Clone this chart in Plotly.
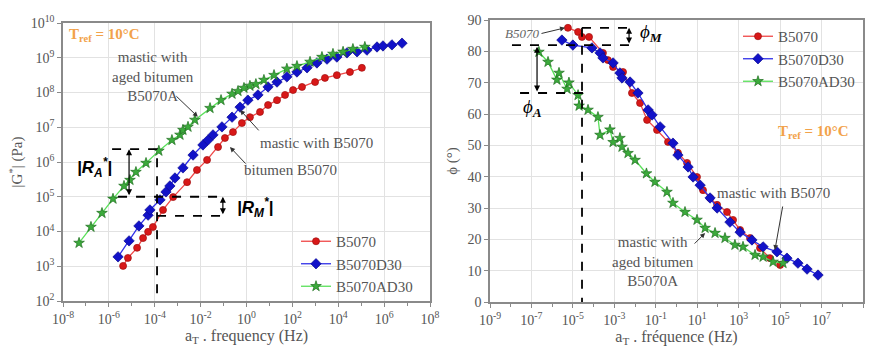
import numpy as np
import plotly.graph_objects as go

# ---------------- DATA (log10 values) ----------------
# Left panel: |G*| master curves
b5070_g_logf = [-5.38, -5.17, -4.77, -4.51, -4.29, -4.08, -3.64, -3.20, -2.59, -2.16, -1.72, -1.24,
                -0.94, -0.59, -0.20, 0.15, 0.59, 0.94, 1.33, 1.68, 2.03, 2.42, 2.99, 3.42, 3.94, 4.51, 5.03]
b5070_g_logG = [3.01, 3.24, 3.53, 3.81, 3.99, 4.13, 4.62, 4.99, 5.42, 5.77, 6.06, 6.43,
                6.69, 6.86, 7.12, 7.29, 7.44, 7.64, 7.78, 7.93, 8.07, 8.16, 8.30, 8.42, 8.50, 8.59, 8.71]

b5070d30_g_logf = [-5.60, -5.12, -4.69, -4.29, -4.21, -3.77, -3.51, -3.34, -3.12, -2.77, -2.33, -1.90,
                   -1.68, -1.46, -1.07, -0.63, -0.28, 0.06, 0.50, 0.94, 1.33, 1.76, 2.20, 2.64, 3.07,
                   3.51, 3.94, 4.38, 4.82, 5.25, 5.69, 5.95, 6.34, 6.78]
b5070d30_g_logG = [3.27, 3.73, 4.16, 4.47, 4.62, 4.91, 5.14, 5.31, 5.54, 5.83, 6.20, 6.49,
                   6.63, 6.78, 7.01, 7.29, 7.58, 7.78, 7.93, 8.16, 8.30, 8.45, 8.59, 8.71, 8.85,
                   8.96, 9.02, 9.14, 9.17, 9.22, 9.31, 9.34, 9.37, 9.42]

b5070ad30_g_logf = [-7.30, -6.78, -6.30, -5.82, -5.34, -5.08, -4.82, -4.38, -3.82, -3.25, -2.90, -2.77,
                    -2.55, -2.25, -1.59, -1.11, -0.63, -0.37, -0.11, 0.15, 0.41, 0.76, 1.20, 1.76,
                    2.20, 2.77, 3.29, 3.77, 4.21, 4.64, 5.16]
b5070ad30_g_logG = [3.67, 4.13, 4.53, 4.94, 5.31, 5.48, 5.71, 5.97, 6.32, 6.63, 6.78, 6.92,
                    7.01, 7.21, 7.55, 7.78, 7.96, 8.04, 8.13, 8.19, 8.24, 8.36, 8.50, 8.68,
                    8.76, 8.88, 9.02, 9.11, 9.17, 9.25, 9.31]

# Right panel: phase angle master curves
b5070_p_logf = [-5.24, -4.75, -4.56, -4.22, -3.55, -3.31, -3.06, -2.58, -2.15, -1.76, -1.42, -0.94,
                -0.41, 0.07, 0.51, 0.99, 1.28, 1.62, 1.96, 2.44, 2.73, 3.07, 3.55, 4.03, 4.51, 5.00]
b5070_p_phase = [87.5, 86.2, 84.6, 84.6, 79.5, 77.2, 75.0, 73.4, 66.7, 63.5, 58.1, 54.9,
                 51.1, 47.6, 44.4, 39.9, 35.7, 33.2, 31.0, 28.7, 26.2, 23.0, 20.4, 17.2, 14.0, 11.8]

b5070d30_p_logf = [-5.53, -5.00, -4.08, -3.69, -3.55, -3.06, -2.73, -2.63, -2.24, -1.86, -1.37, -1.18,
                   -0.79, -0.17, 0.07, 0.56, 0.80, 1.14, 1.62, 1.96, 2.58, 3.07, 3.64, 4.18, 4.85,
                   5.33, 5.86, 6.30, 6.83]
b5070d30_p_phase = [83.6, 82.0, 81.1, 79.5, 77.9, 76.3, 73.1, 71.5, 70.2, 66.7, 61.3, 59.7,
                    55.9, 50.7, 46.9, 43.1, 39.9, 37.3, 33.2, 30.0, 25.5, 22.3, 19.8, 17.6, 16.0,
                    14.0, 12.4, 10.5, 8.6]

b5070ad30_p_logf = [-6.64, -6.20, -5.77, -5.67, -5.28, -5.19, -4.75, -4.70, -4.27, -3.79, -3.69, -3.21,
                    -3.06, -2.73, -2.63, -2.34, -2.00, -1.45, -1.04, -0.46, -0.17, 0.41, 0.99, 1.38,
                    1.86, 2.34, 2.82, 3.21, 3.79, 4.18, 4.66, 5.14]
b5070ad30_p_phase = [79.8, 76.6, 70.9, 73.1, 68.0, 70.0, 66.0, 62.6, 61.3, 59.0, 53.3, 55.0,
                     51.0, 52.3, 49.5, 47.5, 45.3, 41.0, 38.3, 35.1, 31.6, 28.7, 26.2, 23.6,
                     22.0, 20.4, 18.2, 17.6, 15.0, 14.4, 12.8, 12.4]

left_tick_exp = [-8, -6, -4, -2, 0, 2, 4, 6, 8]
left_y_exp = [2, 3, 4, 5, 6, 7, 8, 9, 10]
right_tick_exp = [-9, -7, -5, -3, -1, 1, 3, 5, 7, 9]
phase_ticks = [0, 10, 20, 30, 40, 50, 60, 70, 80, 90]

series_names = ["B5070", "B5070D30", "B5070AD30"]

# reference construction values (log10 freq, log10 |G*| / phase)
ra_top, ra_bot, rm_bot = 6.37, 5.0, 4.45
left_ref_f = -3.90
phim_top, phim_bot, phia_bot = 87.5, 82.0, 66.7
right_ref_f = -4.56

# ---------------- STYLE ----------------
RED_M, RED_L = "#D81818", "#F04848"
BLU_M, BLU_L = "#1212C8", "#3030E8"
GRN_M, GRN_L = "#3CAA3C", "#5AE05A"
SERIF = "Liberation Serif"
TXT = "#555555"
ORANGE = "#F2A24A"

def P(v):
    return list(10 ** np.array(v, dtype=float))

fig = go.Figure()

styles = [
    dict(color=RED_L, msym="circle", mcol=RED_M, mline="#A01010", size=7),
    dict(color=BLU_L, msym="diamond", mcol=BLU_M, mline="#0A0A90", size=8),
    dict(color=GRN_L, msym="star", mcol=GRN_M, mline="#1E6E1E", size=8),
]
left_data = [(b5070_g_logf, b5070_g_logG), (b5070d30_g_logf, b5070d30_g_logG), (b5070ad30_g_logf, b5070ad30_g_logG)]
right_data = [(b5070_p_logf, b5070_p_phase), (b5070d30_p_logf, b5070d30_p_phase), (b5070ad30_p_logf, b5070ad30_p_phase)]

for name, st, (lf, lg) in zip(series_names, styles, left_data):
    fig.add_trace(go.Scatter(
        x=P(lf), y=P(lg), name=name, mode="lines+markers", xaxis="x", yaxis="y", legend="legend",
        line=dict(color=st["color"], width=1.3),
        marker=dict(symbol=st["msym"], color=st["mcol"], size=st["size"], line=dict(color=st["mline"], width=0.7))))

for name, st, (lf, ph) in zip(series_names, styles, right_data):
    fig.add_trace(go.Scatter(
        x=P(lf), y=ph, name=name, mode="lines+markers", xaxis="x2", yaxis="y2", legend="legend2",
        line=dict(color=st["color"], width=1.3),
        marker=dict(symbol=st["msym"], color=st["mcol"], size=st["size"], line=dict(color=st["mline"], width=0.7))))

# dashed construction lines
dash = dict(color="black", width=1.8, dash="dash")
def dline(xs, ys, xa, ya):
    fig.add_trace(go.Scatter(x=xs, y=ys, mode="lines", line=dash, xaxis=xa, yaxis=ya,
                             showlegend=False, hoverinfo="skip"))

dline(P([-5.86, left_ref_f, left_ref_f]), P([ra_top, ra_top, 2]), "x", "y")
dline(P([-5.60, -0.94]), P([ra_bot, ra_bot]), "x", "y")
dline(P([left_ref_f, -0.94]), P([rm_bot, rm_bot]), "x", "y")

dline(P([right_ref_f, -2.34]), [phim_top, phim_top], "x2", "y2")
dline(P([right_ref_f, right_ref_f]), [phim_top, 0], "x2", "y2")
dline(P([-7.94, -2.15]), [phim_bot, phim_bot], "x2", "y2")
dline(P([-7.55, -4.51]), [phia_bot, phia_bot], "x2", "y2")

ann = []
def text(x, y, t, xr, yr, size=15, color=TXT, family=SERIF, **kw):
    ann.append(dict(x=x, y=y, text=t, xref=xr, yref=yr, showarrow=False,
                    font=dict(family=family, size=size, color=color), **kw))

def arrow(x, y, ax, ay, xr, yr, color="#333333", width=1, side="end", head=2, pix=True):
    d = dict(x=x, y=y, ax=ax, ay=ay, xref=xr, yref=yr, text="", showarrow=True,
             arrowcolor=color, arrowwidth=width, arrowhead=head, arrowside=side, arrowsize=1)
    if not pix:
        d["axref"] = xr
        d["ayref"] = yr
    ann.append(d)

# Left annotations
text(-7.83, 9.65, "<b>T<sub>ref</sub> = 10°C</b>", "x", "y", size=15, color=ORANGE, xanchor="left")
text(-4.08, 8.45, "mastic with<br>aged bitumen<br>B5070A", "x", "y")
arrow(-2.12, 7.30, -23, -22, "x", "y")
text(3.07, 6.55, "mastic with B5070", "x", "y")
arrow(-0.28, 7.50, 20, 22, "x", "y")
text(1.90, 5.77, "bitumen B5070", "x", "y")
arrow(-0.72, 6.43, 17, 18, "x", "y")
text(-6.61, 5.83, "<b><i>|R<sub>A</sub><sup>*</sup>|</i></b>", "x", "y", size=17, color="black", family="Liberation Sans")
text(0.35, 4.68, "<b><i>|R<sub>M</sub><sup>*</sup>|</i></b>", "x", "y", size=17, color="black", family="Liberation Sans")
arrow(-5.12, ra_top, -5.12, ra_bot, "x", "y", color="black", width=1.2, side="end+start", head=2, pix=False)
arrow(-1.03, ra_bot, -1.03, rm_bot, "x", "y", color="black", width=1.2, side="end+start", head=2, pix=False)

# Right annotations
text(6.59, 54.3, "<b>T<sub>ref</sub> = 10°C</b>", "x2", "y2", size=15, color=ORANGE)
text(-7.46, 85.6, "<i>B5070</i>", "x2", "y2", size=13, color="#666666")
arrow(-5.38, 87.5, -25, 6, "x2", "y2")
text(4.66, 34.8, "mastic with B5070", "x2", "y2")
arrow(4.75, 16.6, 8, -45, "x2", "y2")
text(-1.13, 13.0, "mastic with<br>aged bitumen<br>B5070A", "x2", "y2")
arrow(1.38, 22.0, -12, 12, "x2", "y2")
text(-1.23, 85.9, "<i>ϕ</i><sub><b><i>M</i></b></sub>", "x2", "y2", size=19, color="black")
text(-6.97, 61.9, "<i>ϕ</i><sub><b><i>A</i></b></sub>", "x2", "y2", size=19, color="black")
arrow(-6.73, 81.5, -6.73, phia_bot, "x2", "y2", color="black", width=1.2, side="end+start", head=2, pix=False)
arrow(-2.29, phim_top, -2.29, phim_bot, "x2", "y2", color="black", width=1.2, side="end+start", head=2, pix=False)

def sup(e):
    return f"10<sup>{e}</sup>"

axis_common = dict(showline=True, linecolor="#8A8A8A", linewidth=1.5, mirror=True,
                   gridcolor="#E2E2E2", gridwidth=1, ticks="outside", ticklen=4, tickcolor="#8A8A8A",
                   tickfont=dict(family=SERIF, size=14, color=TXT), zeroline=False, automargin=False)

H = 349.0
fig.update_layout(
    width=872, height=349, margin=dict(l=0, r=0, t=0, b=0),
    paper_bgcolor="white", plot_bgcolor="white",
    showlegend=True,
    xaxis=dict(type="log", range=[-8, 8], domain=[63 / 872, 430 / 872], anchor="y",
               tickvals=P(left_tick_exp), ticktext=[sup(e) for e in left_tick_exp],
               minor=dict(tickvals=P([e + 1 for e in left_tick_exp[:-1]]), ticks="outside", ticklen=3,
                          tickcolor="#8A8A8A", showgrid=False),
               title=dict(text="a<sub>T</sub> . frequency (Hz)", font=dict(family=SERIF, size=16, color=TXT), standoff=4),
               **axis_common),
    yaxis=dict(type="log", range=[2, 10], domain=[(H - 301) / H, (H - 23) / H], anchor="x",
               tickvals=P(left_y_exp), ticktext=[sup(e) for e in left_y_exp],
               title=dict(text="|G<sup>*</sup>| (Pa)", font=dict(family=SERIF, size=15, color=TXT), standoff=4),
               **axis_common),
    xaxis2=dict(type="log", range=[-9, 9], domain=[490 / 872, 863 / 872], anchor="y2",
                tickvals=P(right_tick_exp), ticktext=[sup(e) for e in right_tick_exp],
                minor=dict(tickvals=P([e + 1 for e in right_tick_exp[:-1]]), ticks="outside", ticklen=3,
                           tickcolor="#8A8A8A", showgrid=False),
                title=dict(text="a<sub>T</sub> . fréquence (Hz)", font=dict(family=SERIF, size=16, color=TXT), standoff=4),
                **axis_common),
    yaxis2=dict(range=[0, 90], domain=[(H - 302) / H, (H - 20) / H], anchor="x2",
                tickvals=phase_ticks,
                title=dict(text="ϕ (°)", font=dict(family=SERIF, size=15, color=TXT), standoff=6),
                **axis_common),
    legend=dict(x=296 / 872, y=1 - 225 / H, xanchor="left", yanchor="top", bgcolor="rgba(0,0,0,0)",
                font=dict(family=SERIF, size=15, color=TXT), tracegroupgap=0, itemwidth=30),
    legend2=dict(x=738 / 872, y=1 - 20 / H, xanchor="left", yanchor="top", bgcolor="rgba(0,0,0,0)",
                 font=dict(family=SERIF, size=15, color=TXT), tracegroupgap=0, itemwidth=30),
    annotations=ann,
)

fig.write_html("out.html")
